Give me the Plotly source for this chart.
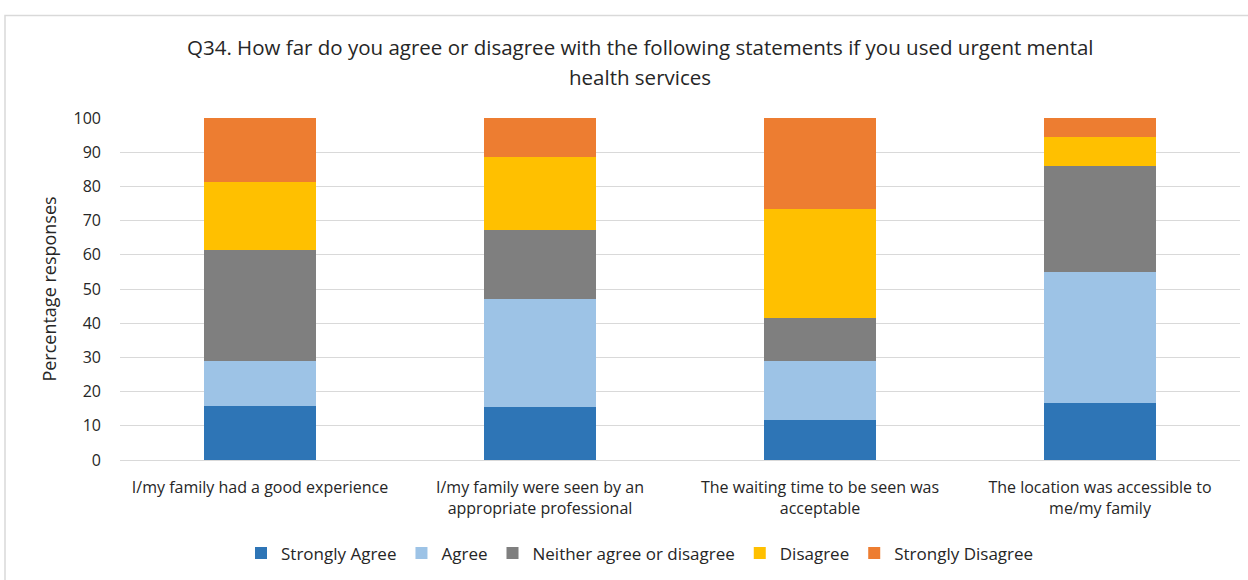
import plotly.graph_objects as go

categories = [
    "I/my family had a good experience",
    "I/my family were seen by an<br>appropriate professional",
    "The waiting time to be seen was<br>acceptable",
    "The location was accessible to<br>me/my family",
]

strongly_agree = [15.8, 15.5, 11.8, 16.8]
agree = [13.2, 31.7, 17.2, 38.1]
neither = [32.3, 20.0, 12.4, 31.0]
disagree = [20.0, 21.4, 31.9, 8.6]
strongly_disagree = [18.7, 11.4, 26.7, 5.5]

series = [
    ("Strongly Agree", strongly_agree, "#2E75B6"),
    ("Agree", agree, "#9DC3E6"),
    ("Neither agree or disagree", neither, "#7F7F7F"),
    ("Disagree", disagree, "#FFC000"),
    ("Strongly Disagree", strongly_disagree, "#ED7D31"),
]

y_ticks = list(range(0, 101, 10))

FONT = "Open Sans, Arial, sans-serif"
W, H = 1248, 580
L, R, T, B = 120, 8, 118, 118

fig = go.Figure()
for name, vals, color in series:
    fig.add_trace(go.Bar(
        x=categories, y=vals, name=name,
        marker=dict(color=color, line=dict(width=0)),
    ))

fig.update_layout(
    width=W, height=H,
    barmode="stack", bargap=0.6,
    margin=dict(l=L, r=R, t=T, b=B),
    paper_bgcolor="white", plot_bgcolor="white",
    font=dict(family=FONT, color="#262626"),
    xaxis=dict(
        showgrid=False, showline=False, ticks="",
        ticklabelstandoff=16,
        tickfont=dict(size=16, family=FONT, color="#262626"),
    ),
    yaxis=dict(
        range=[0, 100], tickvals=y_ticks, ticktext=[str(v) for v in y_ticks],
        showgrid=True, gridcolor="#D9D9D9", gridwidth=1,
        zeroline=True, zerolinecolor="#D9D9D9", zerolinewidth=1,
        showline=False, ticks="",
        ticklabelstandoff=18,
        tickfont=dict(size=16, family=FONT, color="#262626"),
        title=dict(text="Percentage responses", font=dict(size=18, family=FONT, color="#262626"), standoff=12),
    ),
    legend=dict(
        orientation="h", x=(640 - L) / (W - L - R), xanchor="center",
        y=(462 - 556) / (462 - 118), yanchor="middle",
        font=dict(size=17, family=FONT, color="#262626"),
        traceorder="normal", itemwidth=30,
    ),
    showlegend=True,
)

# two-line chart title
title_lines = [
    "Q34. How far do you agree or disagree with the following statements if you used urgent mental",
    "health services",
]
for i, line in enumerate(title_lines):
    fig.add_annotation(
        text=line, xref="paper", yref="paper",
        x=(640 - L) / (W - L - R), xanchor="center",
        y=(462 - (47 + 30 * i)) / (462 - 118), yanchor="middle",
        showarrow=False, font=dict(size=20.5, family=FONT, color="#262626"),
    )

# chart-area frame (light grey)
fig.add_shape(type="rect", xref="paper", yref="paper",
              x0=(5 - L) / (W - L - R), x1=(W + 20 - L) / (W - L - R),
              y0=(462 - (H + 20)) / (462 - 118), y1=(462 - 15) / (462 - 118),
              line=dict(color="#D9D9D9", width=1.5), fillcolor="rgba(0,0,0,0)",
              layer="below")

fig.write_html("out.html")
